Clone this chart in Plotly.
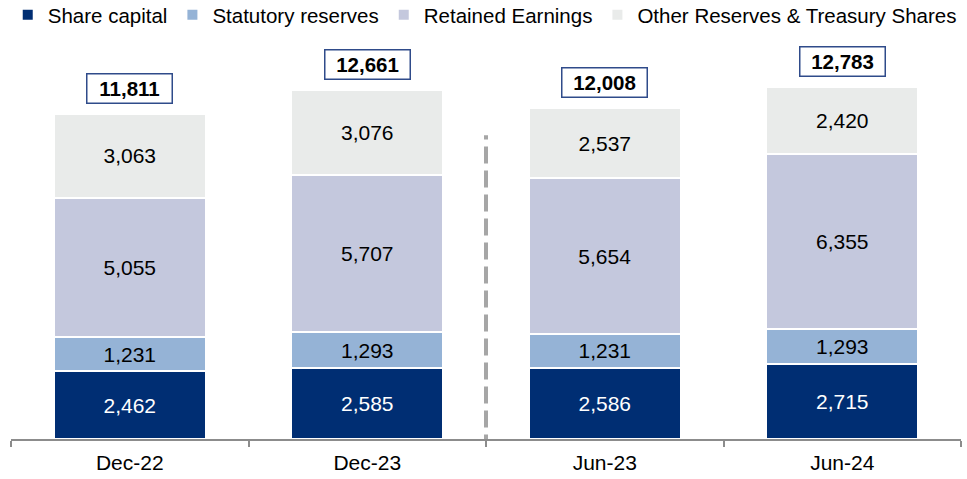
import plotly.graph_objects as go

# Equity breakdown by period (figures in millions)
periods = ["Dec-22", "Dec-23", "Jun-23", "Jun-24"]
share_capital = [2462, 2585, 2586, 2715]
statutory_reserves = [1231, 1293, 1231, 1293]
retained_earnings = [5055, 5707, 5654, 6355]
other_reserves = [3063, 3076, 2537, 2420]
totals = [11811, 12661, 12008, 12783]

series = [
    ("Share capital", share_capital, "#002E73", "white"),
    ("Statutory reserves", statutory_reserves, "#95B3D6", "black"),
    ("Retained Earnings", retained_earnings, "#C4C8DD", "black"),
    ("Other Reserves & Treasury Shares", other_reserves, "#E9EBEA", "black"),
]

FONT = "Liberation Sans, Arial, sans-serif"

fig = go.Figure()
for name, vals, color, txtcolor in series:
    fig.add_trace(go.Bar(
        x=periods,
        y=vals,
        name=name,
        marker=dict(color=color, line=dict(color="white", width=2)),
        text=[f"{v:,}" for v in vals],
        textposition="inside",
        insidetextanchor="middle",
        textangle=0,
        textfont=dict(family=FONT, size=21, color=txtcolor),
        width=0.64,
        hoverinfo="skip",
    ))

# Boxed totals above each stack
for p, t in zip(periods, totals):
    fig.add_annotation(
        x=p, y=t, yanchor="bottom", yshift=10,
        text=f"<b>{t:,}</b>",
        showarrow=False,
        font=dict(family=FONT, size=20.5, color="black"),
        bgcolor="white",
        bordercolor="#2F4B8A",
        borderwidth=1.5,
        borderpad=2,
        width=80,
        height=24,
    )

# Dashed separator between annual and half-year periods
fig.add_shape(
    type="line", xref="x", yref="y",
    x0=1.5, x1=1.5, y0=-450, y1=11030,
    line=dict(color="#A6A6A6", width=4, dash="17px,7px"),
    layer="above",
)

fig.update_layout(
    width=967, height=479,
    margin=dict(l=11, r=6, t=26, b=40, autoexpand=False),
    barmode="stack",
    plot_bgcolor="white",
    paper_bgcolor="white",
    font=dict(family=FONT, size=20, color="black"),
    showlegend=True,
    legend=dict(
        orientation="h",
        xref="container", yref="paper",
        x=0.008, xanchor="left",
        y=1.075, yanchor="top",
        font=dict(family=FONT, size=20.5, color="black"),
        itemwidth=30,
        traceorder="normal",
        bgcolor="rgba(0,0,0,0)",
    ),
    uniformtext=dict(mode="show", minsize=10),
)

fig.update_xaxes(
    type="category",
    tickson="boundaries",
    ticks="outside",
    ticklen=6,
    tickcolor="#8C8C8C",
    tickwidth=1.5,
    showline=True,
    linecolor="#8C8C8C",
    linewidth=1.5,
    showgrid=False,
    ticklabelstandoff=4,
    tickfont=dict(family=FONT, size=21, color="black"),
)
fig.update_yaxes(
    range=[0, 15000],
    visible=False,
    showgrid=False,
    zeroline=False,
)

fig.write_html("out.html")
